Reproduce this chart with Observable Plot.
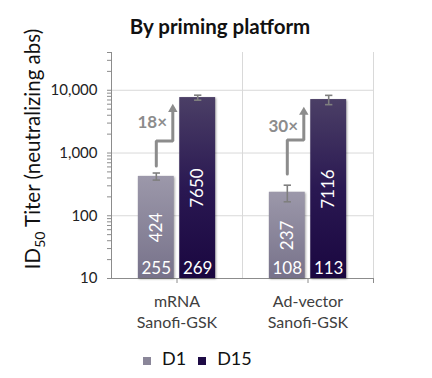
<!DOCTYPE html>
<html><head><meta charset="utf-8">
<script src="https://cdn.jsdelivr.net/npm/d3@7"></script>
<script src="https://cdn.jsdelivr.net/npm/@observablehq/plot@0.6"></script>
<style>
body{margin:0;background:#fff;font-family:Lato,"Open Sans",sans-serif;}
#wrap{width:432px;height:378px;position:relative;overflow:hidden;}
#title{position:absolute;left:0;top:12px;width:440px;text-align:center;font-weight:bold;font-size:20.5px;line-height:28px;color:#111;z-index:2;}
#chart{position:absolute;left:0;top:0;}
#legend{position:absolute;left:143px;top:348px;display:flex;align-items:center;font-size:18px;color:#111;line-height:20px;}
#legend .sw{width:8px;height:8px;display:inline-block;margin-right:11px;margin-top:5px;}
#legend .item{display:flex;align-items:center;margin-right:12px;}
#chart g[aria-label="rect"] rect{filter:drop-shadow(1.5px 1px 1.2px rgba(0,0,0,0.35));}
</style></head><body>
<div id="wrap">
<div id="chart"></div>
<div id="title">By priming platform</div>
<div id="legend"></div>
</div>
<script>
// ---- data ----
const platforms = ["mRNA\nSanofi-GSK", "Ad-vector\nSanofi-GSK"];
const series = ["D1", "D15"];
const seriesColors = ["#8a8699", "#1e0b45"];
const titers = [[424, 7650], [237, 7116]];      // geometric mean titers [D1, D15]
const errLow = [[370, 6950], [167, 5900]];
const errHigh = [[480, 8350], [307, 8300]];
const counts = [[255, 269], [108, 113]];
const foldLabels = ["18×", "30×"];
const arrowStart = [622, 464];
const arrowElbow = [1549, 1607];
const arrowEnd = [4990, 4480];
const foldLabelAt = [3100, 2690];
const yTicks = [10, 100, 1000, 10000];
const yMinorTicks = [20,30,40,50,60,70,80,90,200,300,400,500,600,700,800,900,2000,3000,4000,5000,6000,7000,8000,9000,20000,30000,40000];

// ---- layout helpers (positions within a category slot) ----
const off = 0.158, hw = 0.137, cap = 0.028, elbowShift = 0.126;
const xc = (i, j) => i + 0.5 + (j === 0 ? -off : off);

const rows = platforms.flatMap((p, i) => series.map((s, j) => ({
  p, i, s, j, v: titers[i][j], lo: errLow[i][j], hi: errHigh[i][j], n: counts[i][j], xc: xc(i, j)
})));
const capRows = rows.flatMap(d => [{xc: d.xc, y: d.lo}, {xc: d.xc, y: d.hi}]);
const arrowPts = platforms.flatMap((p, i) => {
  const x0 = xc(i, 0), x1 = x0 + elbowShift;
  return [
    {k: i, x: x0, y: arrowStart[i]},
    {k: i, x: x0, y: arrowElbow[i]},
    {k: i, x: x1, y: arrowElbow[i]},
    {k: i, x: x1, y: arrowEnd[i]}
  ];
});
const arrowHeads = platforms.map((p, i) => ({x: xc(i, 0) + elbowShift, y: arrowEnd[i]}));
const foldRows = platforms.map((p, i) => ({x: xc(i, 0), y: foldLabelAt[i], t: foldLabels[i]}));

const grey = "#8c8c8c";
const chart = Plot.plot({
  width: 432, height: 340,
  marginLeft: 111, marginRight: 59, marginTop: 52, marginBottom: 62,
  x: {domain: [0, 2], axis: null},
  y: {type: "log", domain: [10, 40000], axis: null},
  style: {fontFamily: "Lato, 'Open Sans', sans-serif", background: "white"},
  marks: [
    Plot.ruleY(yTicks.slice(1), {stroke: "#d9d9d9"}),
    Plot.ruleX([1, 2], {stroke: "#d9d9d9"}),
    Plot.axisY({ticks: [...yTicks, ...yMinorTicks], tickSize: 4, tickFormat: () => "", color: grey, label: null}),
    Plot.axisY({ticks: yTicks, tickSize: 0, tickPadding: 14, tickFormat: d3.format(","), fontSize: 15, color: "#222", label: null}),
    Plot.axisX({ticks: [0.5, 1.5, 2], tickSize: 5, tickFormat: () => "", color: grey, label: null}),
    Plot.axisX({ticks: [0.5, 1.5], tickSize: 0, tickPadding: 14, tickFormat: d => platforms[Math.floor(d)], fontSize: 16, lineHeight: 1.3, color: "#404040", label: null}),
    Plot.ruleX([0], {stroke: grey}),
    Plot.ruleY([10], {stroke: grey}),
    Plot.rectY(rows.filter(d => d.s === "D1"), {x1: d => d.xc - hw, x2: d => d.xc + hw, y1: 10, y2: "v", fill: "url(#gD1)"}),
    Plot.rectY(rows.filter(d => d.s === "D15"), {x1: d => d.xc - hw, x2: d => d.xc + hw, y1: 10, y2: "v", fill: "url(#gD15)"}),
    Plot.link(rows, {x1: "xc", x2: "xc", y1: "lo", y2: "hi", stroke: "#7f7f7f", strokeWidth: 1.6}),
    Plot.link(capRows, {x1: d => d.xc - cap, x2: d => d.xc + cap, y1: "y", y2: "y", stroke: "#7f7f7f", strokeWidth: 1.6}),
    Plot.text(rows, {x: "xc", y: d => Math.sqrt(10 * d.v), text: d => String(d.v), rotate: -90, fill: "white", fontSize: 17}),
    Plot.text(rows, {x: "xc", y: 10, dy: -10, text: d => String(d.n), fill: "white", fontSize: 17}),
    Plot.line(arrowPts, {x: "x", y: "y", z: "k", stroke: grey, strokeWidth: 3, strokeLinejoin: "miter", curve: "linear"}),
    Plot.dot(arrowHeads, {x: "x", y: "y", symbol: "triangle", r: 3.5, fill: grey, stroke: null}),
    Plot.text(foldRows, {x: "x", y: "y", text: "t", dx: -4, fill: grey, fontWeight: "bold", fontSize: 17})
  ]
});

// gradients + y-axis title
const svg = d3.select(chart);
const defs = svg.insert("defs", ":first-child");
const g1 = defs.append("linearGradient").attr("id", "gD1").attr("x1", 0).attr("y1", 0).attr("x2", 0).attr("y2", 1);
g1.append("stop").attr("offset", 0).attr("stop-color", "#9c98aa");
g1.append("stop").attr("offset", 1).attr("stop-color", "#77728a");
const g2 = defs.append("linearGradient").attr("id", "gD15").attr("x1", 0).attr("y1", 0).attr("x2", 0).attr("y2", 1);
g2.append("stop").attr("offset", 0).attr("stop-color", "#4b3f66");
g2.append("stop").attr("offset", 0.5).attr("stop-color", "#2a1852");
g2.append("stop").attr("offset", 1).attr("stop-color", "#1a0740");

const yt = svg.append("text")
  .attr("transform", "translate(40,149) rotate(-90)")
  .attr("text-anchor", "middle")
  .attr("font-size", 20.5)
  .attr("fill", "#111")
  .attr("font-family", "Lato, 'Open Sans', sans-serif");
yt.append("tspan").text("ID");
yt.append("tspan").text("50").attr("font-size", 14).attr("dy", 5);
yt.append("tspan").text(" Titer (neutralizing abs)").attr("dy", -5);

document.getElementById("chart").appendChild(chart);

// legend
const leg = d3.select("#legend");
series.forEach((s, j) => {
  const it = leg.append("div").attr("class", "item");
  it.append("span").attr("class", "sw").style("background", seriesColors[j]);
  it.append("span").text(s);
});
</script>
</body></html>
